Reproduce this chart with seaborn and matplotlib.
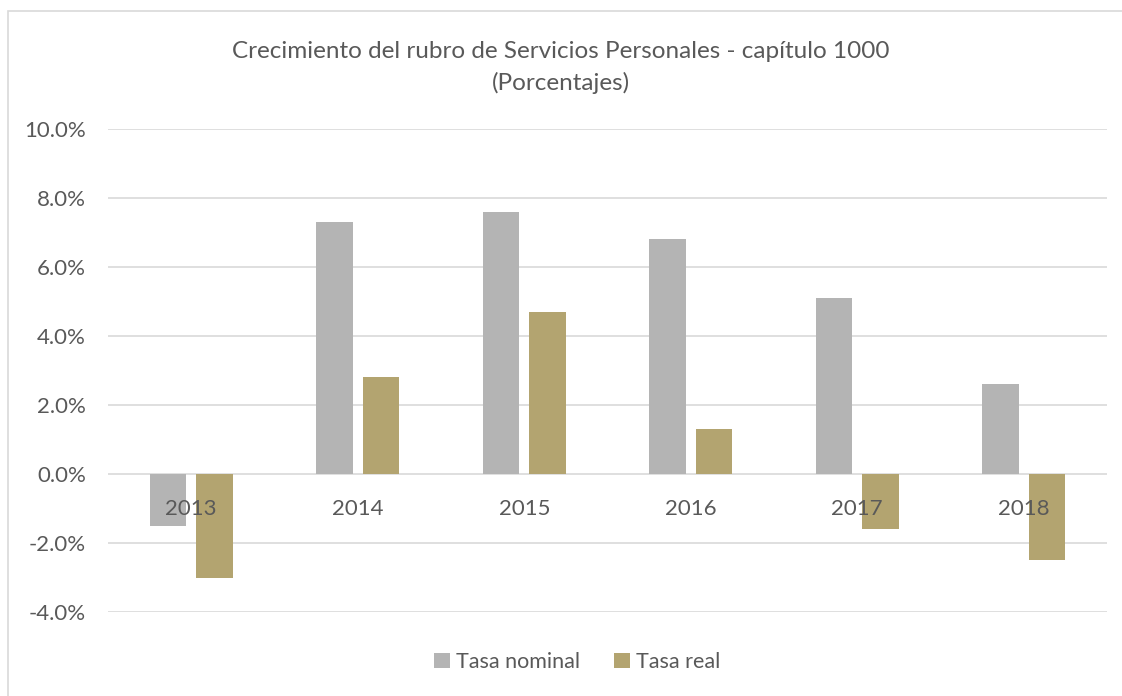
import matplotlib
matplotlib.use("Agg")
import matplotlib.pyplot as plt
import seaborn as sns
import pandas as pd
from matplotlib.patches import Rectangle
from matplotlib.ticker import FuncFormatter

years = ["2013", "2014", "2015", "2016", "2017", "2018"]
tasa_nominal = [-1.5, 7.3, 7.6, 6.8, 5.1, 2.6]
tasa_real = [-3.0, 2.8, 4.7, 1.3, -1.6, -2.5]
series_names = ["Tasa nominal", "Tasa real"]
colors = ["#B4B4B4", "#B3A470"]

df = pd.DataFrame({
    "year": years * 2,
    "value": tasa_nominal + tasa_real,
    "serie": [series_names[0]] * len(years) + [series_names[1]] * len(years),
})

sns.set_theme(style="white")
plt.rcParams["font.family"] = ["Lato", "DejaVu Sans"]
text_color = "#595959"

fig = plt.figure(figsize=(11.22, 6.96), dpi=100)
ax = fig.add_axes([108/1122, 1 - 612/696, (1107-108)/1122, (612-129)/696])

fig.patches.append(Rectangle((8/1122, -0.1), 1.2, 1 - 11/696 + 0.1,
                             transform=fig.transFigure, fill=False,
                             edgecolor="#D9D9D9", linewidth=1.2, zorder=0))

sns.barplot(data=df, x="year", y="value", hue="serie", palette=colors,
            width=0.56, gap=0.21, ax=ax, legend=True, saturation=1,
            linewidth=0, edgecolor="none")

ax.set_ylim(-4, 10)
ax.set_yticks([-4, -2, 0, 2, 4, 6, 8, 10])
ax.yaxis.set_major_formatter(FuncFormatter(lambda v, p: f"{v:.1f}%"))
for y in [-4, -2, 0, 2, 4, 6, 8, 10]:
    ax.axhline(y, color="#D9D9D9", linewidth=1.2, zorder=0)

for s in ax.spines.values():
    s.set_visible(False)
ax.spines["bottom"].set_position(("data", 0))
ax.set_axisbelow(True)
ax.xaxis.set_zorder(5)
ax.tick_params(axis="x", length=0, pad=18, labelsize=16, labelcolor=text_color)
ax.tick_params(axis="y", length=0, pad=16, labelsize=16, labelcolor=text_color)
ax.set_xlabel("")
ax.set_ylabel("")
ax.set_xlim(-0.5, 5.5)

fig.text(0.5, 1 - 51/696, "Crecimiento del rubro de Servicios Personales - capítulo 1000",
         ha="center", va="center", fontsize=17.5, color=text_color)
fig.text(0.5, 1 - 83/696, "(Porcentajes)", ha="center", va="center",
         fontsize=17.5, color=text_color)

leg = ax.legend(loc="center", bbox_to_anchor=(577/1122, 1 - 662/696),
                bbox_transform=fig.transFigure, ncol=2, frameon=False,
                fontsize=15.5, handlelength=0.75, handleheight=0.75,
                handletextpad=0.25, columnspacing=1.6)
for t in leg.get_texts():
    t.set_color(text_color)

fig.savefig("out.png", dpi=100)
